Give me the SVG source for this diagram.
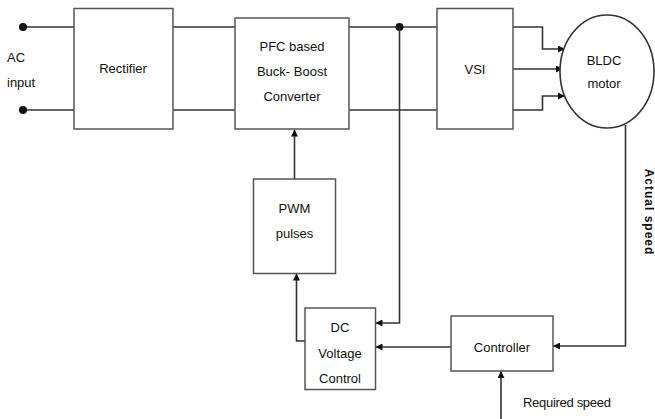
<svg xmlns="http://www.w3.org/2000/svg" width="655" height="419" viewBox="0 0 655 419">
<defs>
<style>
.box{fill:#fff;stroke:#555;stroke-width:1.5}
.ln{fill:none;stroke:#333;stroke-width:1.6}
.t{font-family:"Liberation Sans",Arial,sans-serif;font-size:13px;fill:#111;text-anchor:middle}
</style>
<marker id="ah" viewBox="0 0 10 10" refX="10" refY="5" markerWidth="7" markerHeight="7" orient="auto" markerUnits="userSpaceOnUse">
<path d="M0,0 L10,5 L0,10 Z" fill="#111"/>
</marker>
</defs>
<rect width="655" height="419" fill="#fff"/>
<g id="connectors">
<line class="ln" x1="23" y1="27" x2="74" y2="27"/>
<line class="ln" x1="23" y1="110" x2="74" y2="110"/>
<line class="ln" x1="173" y1="27" x2="235" y2="27"/>
<line class="ln" x1="173" y1="110" x2="235" y2="110"/>
<line class="ln" x1="349" y1="27" x2="437" y2="27"/>
<line class="ln" x1="349" y1="110" x2="437" y2="110"/>
<circle cx="23" cy="27" r="4" fill="#111"/>
<circle cx="23" cy="110" r="4" fill="#111"/>
<circle cx="399.5" cy="27" r="4" fill="#111"/>
<polyline class="ln" points="513,27 542.5,27 542.5,49 565,49" marker-end="url(#ah)"/>
<line class="ln" x1="513" y1="69" x2="563" y2="69" marker-end="url(#ah)"/>
<polyline class="ln" points="513,110 542.5,110 542.5,96 565,96" marker-end="url(#ah)"/>
<polyline class="ln" points="399.5,27 399.5,323 375.5,323" marker-end="url(#ah)"/>
<polyline class="ln" points="625.5,125 625.5,346 553,346" marker-end="url(#ah)"/>
<line class="ln" x1="451" y1="347" x2="375.5" y2="347" marker-end="url(#ah)"/>
<polyline class="ln" points="305,341 296.5,341 296.5,273.5" marker-end="url(#ah)"/>
<line class="ln" x1="294.5" y1="179" x2="294.5" y2="129.5" marker-end="url(#ah)"/>
<line class="ln" x1="501" y1="419" x2="501" y2="371" marker-end="url(#ah)"/>
</g>
<g id="ac-input">
<text class="t" x="7" y="62" style="text-anchor:start">AC</text>
<text class="t" x="7" y="87" style="text-anchor:start">input</text>
</g>
<g id="rectifier">
<rect class="box" x="74" y="8.5" width="99" height="120.5"/>
<text class="t" x="123" y="73">Rectifier</text>
</g>
<g id="pfc">
<rect class="box" x="235" y="18" width="114" height="111"/>
<text class="t" x="292" y="51">PFC based</text>
<text class="t" x="292" y="76">Buck- Boost</text>
<text class="t" x="292" y="101">Converter</text>
</g>
<g id="vsi">
<rect class="box" x="437" y="8.5" width="76" height="120.5"/>
<text class="t" x="475" y="74">VSI</text>
</g>
<g id="motor">
<ellipse cx="607" cy="71.5" rx="47" ry="56.5" fill="#fff" stroke="#333" stroke-width="1.6"/>
<text class="t" x="604" y="65">BLDC</text>
<text class="t" x="604" y="88">motor</text>
</g>
<g id="pwm">
<rect class="box" x="253.5" y="179" width="82" height="94.5"/>
<text class="t" x="294.5" y="213">PWM</text>
<text class="t" x="294.5" y="238">pulses</text>
</g>
<g id="dc-voltage-control">
<rect class="box" x="305" y="308" width="70.5" height="81.5"/>
<text class="t" x="340" y="332">DC</text>
<text class="t" x="340" y="358">Voltage</text>
<text class="t" x="340" y="383">Control</text>
</g>
<g id="controller">
<rect class="box" x="451" y="316" width="102" height="55"/>
<text class="t" x="502" y="352">Controller</text>
</g>
<g id="labels">
<text class="t" x="523" y="407" style="text-anchor:start;letter-spacing:-0.3px">Required speed</text>
<text class="t" transform="translate(645,212) rotate(90)" style="font-size:12px;font-weight:bold;letter-spacing:1px">Actual speed</text>
</g>
</svg>
